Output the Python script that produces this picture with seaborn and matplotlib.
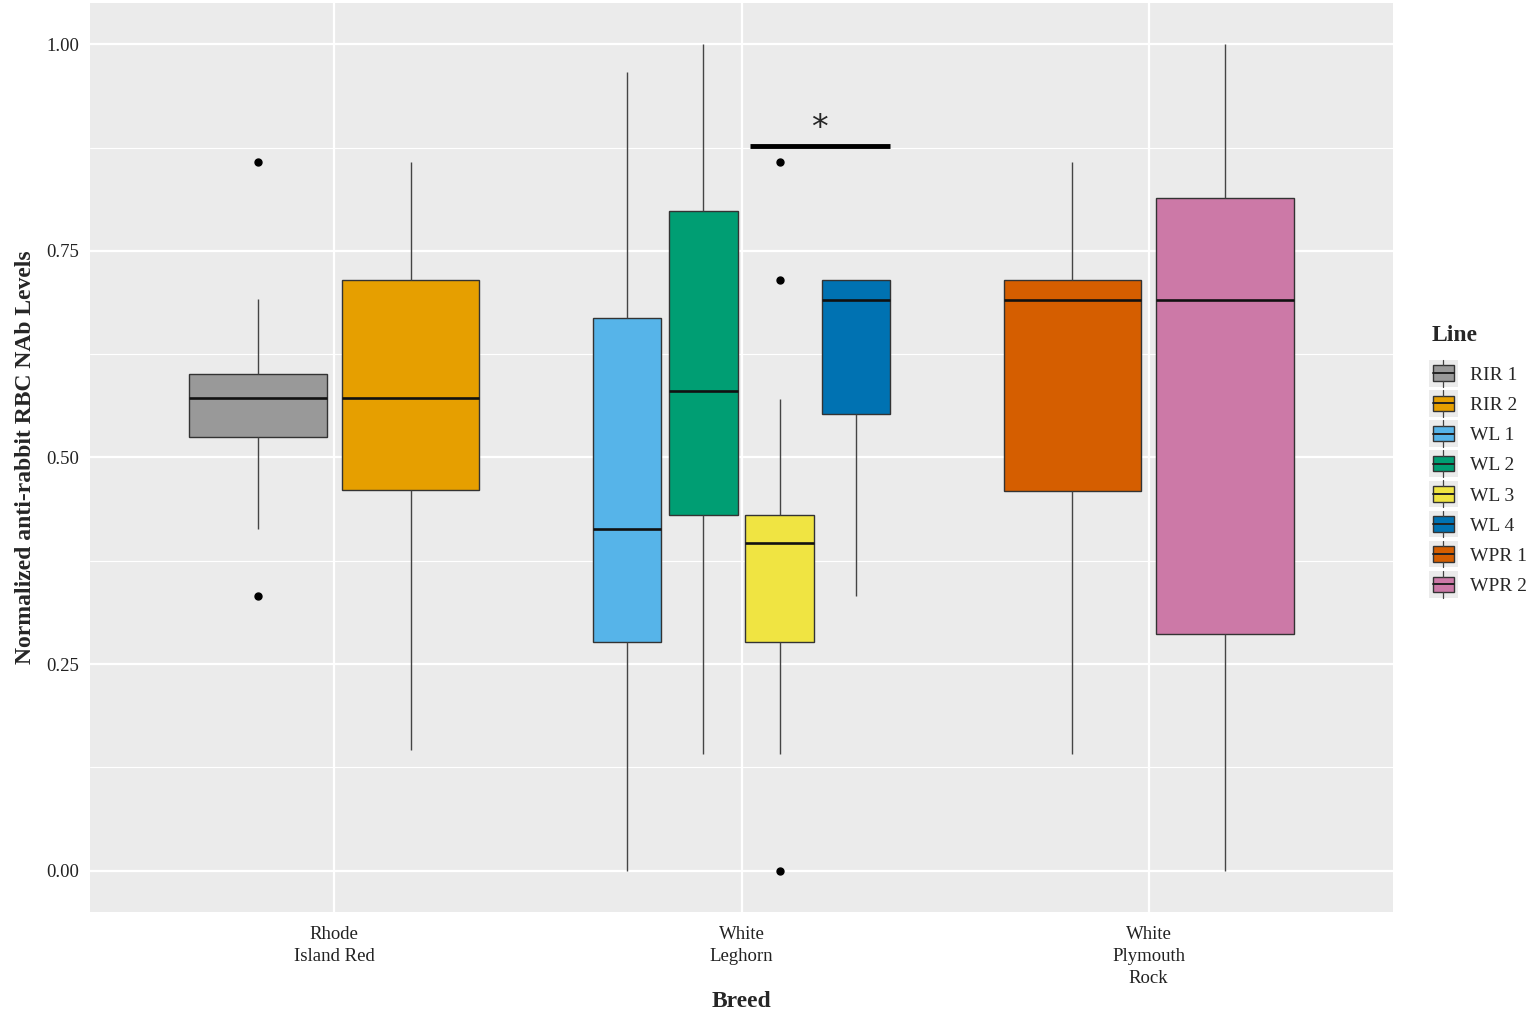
import matplotlib
matplotlib.use("Agg")
import matplotlib.pyplot as plt
import seaborn as sns
import pandas as pd
import numpy as np
from matplotlib.legend_handler import HandlerBase
from matplotlib.patches import Rectangle
from matplotlib.lines import Line2D

# ---- data ----
breeds = ["Rhode\nIsland Red", "White\nLeghorn", "White\nPlymouth\nRock"]
lines = ["RIR 1", "RIR 2", "WL 1", "WL 2", "WL 3", "WL 4", "WPR 1", "WPR 2"]
line_breed = ["Rhode\nIsland Red", "Rhode\nIsland Red",
              "White\nLeghorn", "White\nLeghorn", "White\nLeghorn", "White\nLeghorn",
              "White\nPlymouth\nRock", "White\nPlymouth\nRock"]
colors = ["#999999", "#E69F00", "#56B4E9", "#009E73",
          "#F0E442", "#0072B2", "#D55E00", "#CC79A7"]

rir1 = [0.333, 0.414, 0.525, 0.550, 0.572, 0.590, 0.601, 0.692, 0.857]
rir2 = [0.146, 0.461, 0.572, 0.715, 0.857]
wl1 = [0.000, 0.277, 0.414, 0.669, 0.966]
wl2 = [0.141, 0.430, 0.581, 0.798, 1.000]
wl3 = [0.000, 0.141, 0.200, 0.277, 0.300, 0.350, 0.397, 0.410, 0.420,
       0.430, 0.571, 0.715, 0.857]
wl4 = [0.333, 0.553, 0.691, 0.715, 0.715]
wpr1 = [0.141, 0.460, 0.691, 0.715, 0.857]
wpr2 = [0.000, 0.286, 0.691, 0.814, 1.000]
values = [rir1, rir2, wl1, wl2, wl3, wl4, wpr1, wpr2]

rows = []
for ln, br, vals in zip(lines, line_breed, values):
    for v in vals:
        rows.append({"Breed": br, "Line": ln, "value": v})
df = pd.DataFrame(rows)
palette = dict(zip(lines, colors))

# ---- fonts / style ----
sns.set_style("white")
plt.rcParams["font.family"] = ["Liberation Serif", "DejaVu Serif"]

fig = plt.figure(figsize=(15.35, 10.28), dpi=100)
ax = fig.add_axes([90 / 1535, 1 - 912 / 1028, (1393 - 90) / 1535, (912 - 3) / 1028])
ax.set_facecolor("#EBEBEB")

# panel grid (ggplot style)
for y in [0.125, 0.375, 0.625, 0.875]:
    ax.axhline(y, color="white", lw=0.8, zorder=0)
for y in [0, 0.25, 0.5, 0.75, 1.0]:
    ax.axhline(y, color="white", lw=1.6, zorder=0)
for x in range(len(breeds)):
    ax.axvline(x, color="white", lw=1.6, zorder=0)

for br in breeds:
    sub = df[df["Breed"] == br]
    hue_order = [l for l, b in zip(lines, line_breed) if b == br]
    sns.boxplot(data=sub, x="Breed", y="value", hue="Line", order=breeds,
                hue_order=hue_order, palette=palette, width=0.75, gap=0.1,
                whis=1.5, saturation=1, linewidth=1.0, linecolor="#333333",
                flierprops=dict(marker="o", markerfacecolor="black",
                                markeredgecolor="black", markersize=5),
                medianprops=dict(color="#111111", linewidth=1.9),
                whiskerprops=dict(color="#444444", linewidth=1.0),
                capprops=dict(linewidth=0),
                legend=False, ax=ax, zorder=2)

# significance annotation
ax.plot([1.02, 1.365], [0.877, 0.877], color="black", lw=3.5, solid_capstyle="butt", zorder=3)
ax.text(1.19, 0.878, "*", ha="center", va="bottom", fontsize=24, family="DejaVu Sans")

ax.set_xlim(-0.6, 2.6)
ax.set_ylim(-0.05, 1.05)
ax.set_yticks([0, 0.25, 0.5, 0.75, 1.0])
ax.set_yticklabels(["0.00", "0.25", "0.50", "0.75", "1.00"])
ax.tick_params(axis="both", length=4, color="#555555", labelsize=13.5, labelcolor="#222222")
ax.tick_params(axis="x", pad=6)
for lab in ax.get_xticklabels():
    lab.set_linespacing(1.4)
for s in ax.spines.values():
    s.set_visible(False)
ax.set_xlabel("Breed", fontsize=17, fontweight="bold", labelpad=3)
ax.set_ylabel("Normalized anti-rabbit RBC NAb Levels", fontsize=17, fontweight="bold", labelpad=8)


class BoxHandler(HandlerBase):
    def create_artists(self, legend, orig, xdescent, ydescent, width, height, fontsize, trans):
        fc = orig.get_facecolor()
        bg = Rectangle((-xdescent - 2, -ydescent - 4), width + 4, height + 8,
                       facecolor="#EBEBEB", edgecolor="none", transform=trans)
        bw = width * 0.92
        x0 = -xdescent + (width - bw) / 2
        y0 = -ydescent
        bh = height
        box = Rectangle((x0, y0), bw, bh, facecolor=fc, edgecolor="#333333",
                        lw=1.0, transform=trans)
        xm = -xdescent + width / 2
        med = Line2D([x0, x0 + bw], [y0 + bh / 2] * 2, color="#222222", lw=1.4, transform=trans)
        w1 = Line2D([xm, xm], [y0 + bh, y0 + bh + 4], color="#444444", lw=0.9, transform=trans)
        w2 = Line2D([xm, xm], [y0, y0 - 4], color="#444444", lw=0.9, transform=trans)
        return [bg, box, med, w1, w2]


handles = [Rectangle((0, 0), 1, 1, facecolor=c) for c in colors]
leg = fig.legend(handles, lines, title="Line", loc="center left",
                 bbox_to_anchor=(1422 / 1535, 1 - 460 / 1028),
                 frameon=False, fontsize=14, title_fontproperties=dict(weight="bold", size=17),
                 handler_map={Rectangle: BoxHandler()}, handlelength=1.2, handleheight=0.85,
                 labelspacing=0.6, handletextpad=0.75, borderpad=0)
leg._legend_box.align = "left"
leg._legend_box.sep = 14

fig.savefig("out.png", dpi=100)
